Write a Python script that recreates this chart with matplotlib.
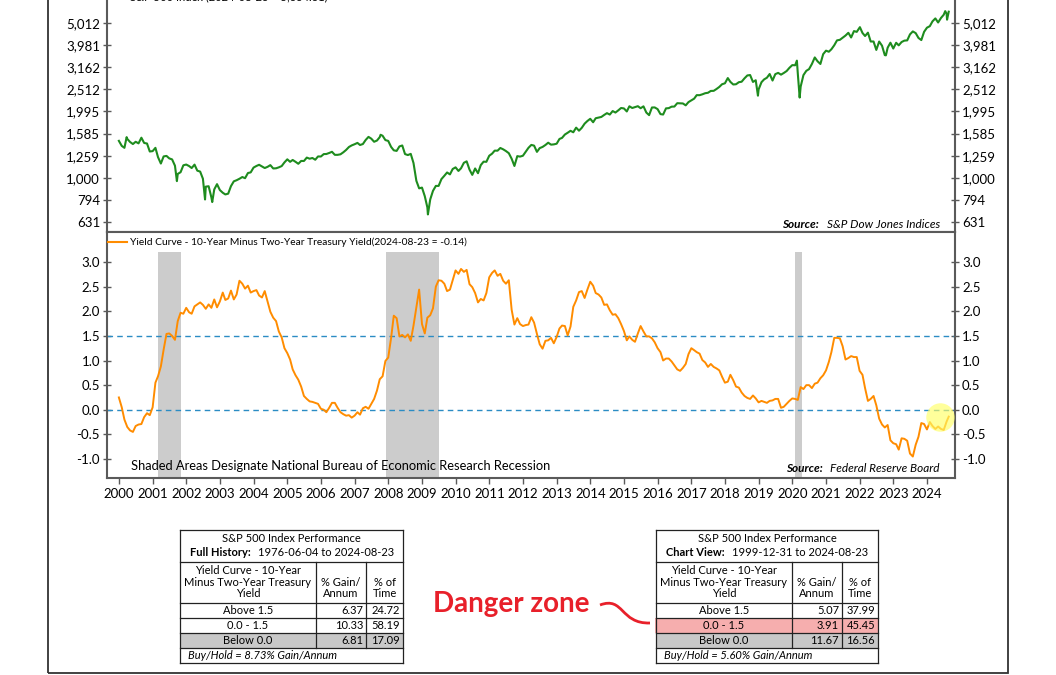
import matplotlib
matplotlib.use("Agg")
import matplotlib.pyplot as plt
import numpy as np
import pandas as pd
from matplotlib.patches import Rectangle, PathPatch
from matplotlib.path import Path
from matplotlib.lines import Line2D
from matplotlib.ticker import NullLocator

plt.rcParams['font.family'] = ['Lato', 'DejaVu Sans']
plt.rcParams['axes.unicode_minus'] = False

W, H = 1056, 675

# ---- data -------------------------------------------------------------
# S&P 500 month-end closes, Jan 2000 .. Jul 2024
sp500_monthly = [
    1394, 1366, 1499, 1452, 1421, 1455, 1431, 1518, 1437, 1429, 1315, 1320,
    1366, 1240, 1160, 1249, 1256, 1224, 1211, 1134, 1041, 1060, 1139, 1148,
    1130, 1107, 1147, 1077, 1067, 990, 912, 916, 815, 886, 936, 880,
    856, 841, 848, 917, 964, 975, 990, 1008, 996, 1051, 1058, 1112,
    1131, 1145, 1126, 1107, 1121, 1141, 1102, 1104, 1115, 1130, 1174, 1212,
    1181, 1204, 1181, 1157, 1192, 1191, 1234, 1220, 1229, 1207, 1249, 1248,
    1280, 1281, 1295, 1311, 1270, 1270, 1277, 1304, 1336, 1378, 1401, 1418,
    1438, 1407, 1421, 1482, 1531, 1503, 1455, 1474, 1527, 1549, 1481, 1468,
    1379, 1331, 1323, 1386, 1400, 1280, 1267, 1283, 1166, 969, 896, 903,
    826, 735, 798, 873, 919, 919, 987, 1021, 1057, 1036, 1096, 1115,
    1074, 1104, 1169, 1187, 1089, 1031, 1102, 1049, 1141, 1183, 1181, 1258,
    1286, 1327, 1326, 1364, 1345, 1321, 1292, 1219, 1131, 1253, 1247, 1258,
    1312, 1366, 1408, 1398, 1310, 1362, 1379, 1407, 1441, 1412, 1416, 1426,
    1498, 1515, 1569, 1598, 1631, 1606, 1686, 1633, 1682, 1757, 1806, 1848,
    1783, 1859, 1872, 1884, 1924, 1960, 1931, 2003, 1972, 2018, 2068, 2059,
    1995, 2105, 2068, 2086, 2107, 2063, 2104, 1972, 1920, 2079, 2080, 2044,
    1940, 1932, 2060, 2065, 2097, 2099, 2174, 2171, 2168, 2126, 2199, 2239,
    2279, 2364, 2363, 2384, 2412, 2423, 2470, 2472, 2519, 2575, 2648, 2674,
    2824, 2714, 2641, 2648, 2705, 2718, 2816, 2902, 2914, 2712, 2760, 2507,
    2704, 2784, 2834, 2946, 2752, 2942, 2980, 2926, 2977, 3038, 3141, 3231,
    3226, 2954, 2585, 2912, 3044, 3100, 3271, 3500, 3363, 3270, 3622, 3756,
    3714, 3811, 3973, 4181, 4204, 4298, 4395, 4523, 4308, 4605, 4567, 4766,
    4516, 4374, 4530, 4132, 4132, 3785, 4130, 3955, 3586, 3872, 4080, 3840,
    4077, 3970, 4109, 4169, 4180, 4450, 4589, 4508, 4288, 4194, 4568, 4770,
    4846, 5096, 5254, 5036, 5278, 5460, 5522,
]
# notable intra-month closes
sp500_extra_dates = ['1999-12-31', '2000-03-24', '2001-09-21', '2002-07-23', '2002-10-09',
                     '2007-10-09', '2009-03-06', '2018-12-24', '2020-02-19', '2020-03-20',
                     '2022-01-03', '2022-10-12', '2024-07-16', '2024-08-05', '2024-08-23']
sp500_extra_values = [1469, 1527, 966, 798, 777, 1565, 683, 2351, 3386, 2305,
                      4797, 3577, 5667, 5186, 5634]

# 10-year minus 2-year treasury yield, monthly, Jan 2000 .. Jul 2024
spread_monthly = [
    0.05, -0.20, -0.35, -0.42, -0.45, -0.33, -0.30, -0.29, -0.15, -0.07, -0.11, 0.05,
    0.55, 0.68, 0.88, 1.22, 1.54, 1.55, 1.50, 1.42, 1.80, 1.97, 1.95, 2.07,
    1.98, 1.95, 2.10, 2.14, 2.18, 2.13, 2.05, 2.14, 2.07, 2.24, 2.08, 2.20,
    2.38, 2.23, 2.26, 2.42, 2.24, 2.34, 2.62, 2.56, 2.46, 2.52, 2.38, 2.41,
    2.43, 2.32, 2.28, 2.41, 2.20, 1.99, 1.87, 1.80, 1.59, 1.47, 1.25, 1.15,
    1.02, 0.82, 0.70, 0.61, 0.47, 0.28, 0.22, 0.17, 0.16, 0.14, 0.12, 0.02,
    0.00, -0.05, 0.04, 0.14, 0.14, 0.04, -0.05, -0.09, -0.12, -0.11, -0.16, -0.12,
    -0.05, -0.10, 0.03, 0.06, 0.02, 0.12, 0.22, 0.39, 0.62, 0.68, 0.99, 1.06,
    1.46, 1.91, 1.86, 1.49, 1.52, 1.47, 1.53, 1.40, 1.71, 2.08, 2.44, 1.74,
    1.55, 1.87, 1.92, 2.06, 2.50, 2.63, 2.62, 2.56, 2.41, 2.44, 2.63, 2.83,
    2.76, 2.86, 2.80, 2.84, 2.55, 2.49, 2.37, 2.18, 2.25, 2.22, 2.37, 2.69,
    2.78, 2.83, 2.72, 2.76, 2.62, 2.56, 2.63, 2.03, 1.73, 1.86, 1.74, 1.70,
    1.72, 1.73, 1.88, 1.77, 1.54, 1.33, 1.24, 1.40, 1.41, 1.46, 1.35, 1.48,
    1.65, 1.71, 1.70, 1.51, 1.69, 2.09, 2.22, 2.39, 2.41, 2.27, 2.44, 2.60,
    2.52, 2.37, 2.34, 2.28, 2.13, 2.14, 2.02, 1.93, 1.94, 1.86, 1.74, 1.60,
    1.41, 1.49, 1.42, 1.38, 1.55, 1.70, 1.59, 1.49, 1.49, 1.45, 1.37, 1.25,
    1.17, 1.00, 1.04, 1.04, 0.98, 0.90, 0.82, 0.79, 0.85, 0.93, 1.13, 1.25,
    1.21, 1.17, 1.14, 1.01, 0.96, 0.87, 0.93, 0.87, 0.84, 0.80, 0.67, 0.55,
    0.57, 0.71, 0.60, 0.47, 0.45, 0.35, 0.28, 0.24, 0.22, 0.29, 0.23, 0.15,
    0.18, 0.16, 0.14, 0.18, 0.19, 0.22, 0.22, 0.04, 0.06, 0.12, 0.18, 0.23,
    0.22, 0.20, 0.46, 0.42, 0.50, 0.50, 0.44, 0.53, 0.55, 0.64, 0.70, 0.80,
    0.97, 1.17, 1.46, 1.46, 1.45, 1.29, 1.02, 1.05, 1.09, 1.07, 1.07, 0.79,
    0.71, 0.44, 0.18, 0.22, 0.28, 0.09, -0.18, -0.30, -0.36, -0.31, -0.62, -0.68,
    -0.70, -0.81, -0.58, -0.59, -0.63, -0.89, -0.95, -0.71, -0.55, -0.27, -0.29, -0.40,
    -0.25, -0.33, -0.39, -0.34, -0.39, -0.41, -0.24,
]
spread_extra_dates = ['1999-12-31', '2024-08-23']
spread_extra_values = [0.25, -0.14]

recession_start = [2001.17, 2007.92, 2020.08]
recession_end = [2001.83, 2009.50, 2020.30]

sp_ticks = [631, 794, 1000, 1259, 1585, 1995, 2512, 3162, 3981, 5012]
sp_tick_labels = ['631', '794', '1,000', '1,259', '1,585', '1,995', '2,512', '3,162', '3,981', '5,012']
yc_ticks = [-1.0, -0.5, 0.0, 0.5, 1.0, 1.5, 2.0, 2.5, 3.0]
years = list(range(2000, 2025))
thresholds = [0.0, 1.5]

tbl_col_head = ['Yield Curve - 10-Year\nMinus Two-Year Treasury\nYield', '% Gain/\nAnnum', '% of\nTime']
tbl_rows = ['Above 1.5', '0.0 - 1.5', 'Below 0.0']
full_gain = ['6.37', '10.33', '6.81']
full_time = ['24.72', '58.19', '17.09']
view_gain = ['5.07', '3.91', '11.67']
view_time = ['37.99', '45.45', '16.56']


def frac_year(d):
    d = pd.to_datetime(pd.Series(d))
    return (d.dt.year + (d.dt.dayofyear - 1) / 365.25).to_numpy()


month_ends = pd.date_range('2000-01-31', '2024-07-31', freq='ME')
sp_x = np.concatenate([frac_year(month_ends), frac_year(sp500_extra_dates)])
sp_y = np.concatenate([sp500_monthly, sp500_extra_values])
o = np.argsort(sp_x)
sp_x, sp_y = sp_x[o], sp_y[o]

yc_x = np.concatenate([frac_year(month_ends), frac_year(spread_extra_dates)])
yc_y = np.concatenate([spread_monthly, spread_extra_values])
o = np.argsort(yc_x)
yc_x, yc_y = yc_x[o], yc_y[o]


# ---- helpers (pixel coords, origin top-left) ---------------------------
def fx(x):
    return x / W


def fy(y):
    return 1 - y / H


fig = plt.figure(figsize=(W / 100, H / 100), dpi=100)
fig.patch.set_facecolor('white')

spine_col = '#5a5a5a'
xlo, xhi = 1999.644, 2024.83

# ---- top panel: S&P 500 ------------------------------------------------
ax1 = fig.add_axes([fx(107), fy(232), fx(955) - fx(107), (232 + 14) / H])
ax1.plot(sp_x, sp_y, color='#1e8c1e', lw=1.5)
ax1.set_yscale('log')
ax1.set_ylim(10 ** 2.755, 10 ** 3.867)
ax1.set_xlim(xlo, xhi)
ax1.set_yticks(sp_ticks)
ax1.set_yticklabels(sp_tick_labels)
ax1.yaxis.set_minor_locator(NullLocator())
ax1.set_xticks([])
ax1.tick_params(axis='y', which='both', direction='inout', length=6, width=1, color=spine_col,
                left=True, right=True, labelleft=True, labelright=True, labelsize=9.5, pad=2)

# ---- bottom panel: yield curve ----------------------------------------
ax2 = fig.add_axes([fx(107), fy(478), fx(955) - fx(107), (478 - 232) / H])
y2lo, y2hi = -1.386, 3.61
shade_top = (3.2 - y2lo) / (y2hi - y2lo)
for s, e in zip(recession_start, recession_end):
    ax2.axvspan(s, e, ymin=0, ymax=shade_top, color='#cccccc', lw=0, zorder=1)
for t in thresholds:
    ax2.axhline(t, color='#2b8cc4', lw=1, dashes=(4, 3), zorder=2)
ax2.plot(yc_x, yc_y, color='#ff8c00', lw=1.4, zorder=3)
ax2.scatter([2024.39], [-0.15], s=420, color='#ffff66', alpha=0.65, lw=0, zorder=4)
ax2.set_ylim(y2lo, y2hi)
ax2.set_xlim(xlo, xhi)
ax2.set_yticks(yc_ticks)
ax2.set_yticklabels(['%.1f' % v for v in yc_ticks])
ax2.set_xticks(years)
ax2.set_xticklabels([str(y) for y in years])
ax2.tick_params(axis='y', direction='inout', length=6, width=1, color=spine_col,
                left=True, right=True, labelleft=True, labelright=True, labelsize=9.5, pad=2)
ax2.tick_params(axis='x', direction='out', length=4, width=1, color=spine_col, labelsize=9.5, pad=3)

for ax in (ax1, ax2):
    for sp in ax.spines.values():
        sp.set_color(spine_col)
        sp.set_linewidth(1.5)

# legends / annotations
fig.add_artist(Line2D([fx(108), fx(127)], [fy(-3), fy(-3)], color='#1e8c1e', lw=1.5))
fig.text(fx(130), fy(-3), 'S&P 500 Index (2024-08-23 = 5,634.61)', fontsize=8, va='center')
fig.add_artist(Line2D([fx(108), fx(127)], [fy(242), fy(242)], color='#ff8c00', lw=1.5))
fig.text(fx(130), fy(242), 'Yield Curve - 10-Year Minus Two-Year Treasury Yield(2024-08-23 = -0.14)',
         fontsize=7.4, va='center')
fig.text(fx(131), fy(466), 'Shaded Areas Designate National Bureau of Economic Research Recession',
         fontsize=9.3, va='center')

renderer = fig.canvas.get_renderer()


def source_text(x_right, y, txt):
    t = fig.text(fx(x_right), fy(y), txt, fontsize=8.5, style='italic', ha='right', va='center')
    bb = t.get_window_extent(renderer)
    fig.text(bb.x0 / W - fx(8), fy(y), 'Source:', fontsize=8.5, style='italic', weight='bold',
             ha='right', va='center')


source_text(940, 225, 'S&P Dow Jones Indices')
source_text(940, 469, 'Federal Reserve Board')

# outer frame
fig.add_artist(Rectangle((fx(48), fy(673)), fx(1008) - fx(48), (673 + 30) / H, transform=fig.transFigure,
                         fill=False, ec='#333333', lw=1.3, clip_on=False))


# ---- tables -------------------------------------------------------------
def hline(x0, x1, y, lw=0.9):
    fig.add_artist(Line2D([fx(x0), fx(x1)], [fy(y), fy(y)], color='#222222', lw=lw))


def vline(x, y0, y1, lw=0.9):
    fig.add_artist(Line2D([fx(x), fx(x)], [fy(y0), fy(y1)], color='#222222', lw=lw))


def draw_table(cols, bold_lbl, dates_txt, gains, times, buyhold, highlight=False):
    rows_y = [530, 562, 603, 618, 633, 648, 663]
    x0, c1, c2, x1 = cols
    # gray row
    fig.add_artist(Rectangle((fx(x0), fy(648)), fx(x1) - fx(x0), (648 - 633) / H,
                             transform=fig.transFigure, color='#c8c8c8', lw=0))
    for y in rows_y:
        hline(x0, x1, y)
    vline(x0, 530, 663)
    vline(x1, 530, 663)
    vline(c1, 562, 648)
    vline(c2, 562, 648)
    fs = 8
    fig.text(fx((x0 + x1) / 2), fy(538), 'S&P 500 Index Performance', fontsize=fs, ha='center', va='center')
    b = fig.text(fx(x0 + 10), fy(552), bold_lbl, fontsize=fs, weight='bold', ha='left', va='center')
    bb = b.get_window_extent(renderer)
    fig.text(bb.x1 / W + fx(7), fy(552), dates_txt, fontsize=fs, ha='left', va='center')
    fig.text(fx((x0 + c1) / 2), fy(582), tbl_col_head[0], fontsize=fs, ha='center', va='center',
             linespacing=1.05)
    fig.text(fx((c1 + c2) / 2), fy(588), tbl_col_head[1], fontsize=fs, ha='center', va='center',
             linespacing=1.05)
    fig.text(fx((c2 + x1) / 2), fy(588), tbl_col_head[2], fontsize=fs, ha='center', va='center',
             linespacing=1.05)
    for i, lbl in enumerate(tbl_rows):
        yc = 610.5 + 15 * i
        fig.text(fx((x0 + c1) / 2), fy(yc), lbl, fontsize=fs, ha='center', va='center')
        fig.text(fx(c2 - 3), fy(yc), gains[i], fontsize=fs, ha='right', va='center')
        fig.text(fx(x1 - 3), fy(yc), times[i], fontsize=fs, ha='right', va='center')
    fig.text(fx(x0 + 8), fy(655.5), buyhold, fontsize=fs, style='italic', ha='left', va='center')
    if highlight:
        fig.add_artist(Rectangle((fx(x0 - 1), fy(633)), fx(x1) - fx(x0 - 1), (633 - 618) / H,
                                 transform=fig.transFigure, color='#f07878', alpha=0.6, lw=0))


draw_table([180, 316, 366, 403], 'Full History:', '1976-06-04 to 2024-08-23',
           full_gain, full_time, 'Buy/Hold = 8.73% Gain/Annum')
draw_table([656, 792, 842, 878], 'Chart View:', '1999-12-31 to 2024-08-23',
           view_gain, view_time, 'Buy/Hold = 5.60% Gain/Annum', highlight=True)

# danger zone annotation
fig.text(fx(433), fy(604), 'Danger zone', fontsize=20, weight='bold', color='#e8202a',
         ha='left', va='center')
pts = [(600, 605), (624, 596), (620, 624), (650, 623)]
path = Path([(fx(x), fy(y)) for x, y in pts], [Path.MOVETO, Path.CURVE4, Path.CURVE4, Path.CURVE4])
fig.add_artist(PathPatch(path, transform=fig.transFigure, fill=False, ec='#e8202a', lw=2))

fig.savefig('out.png', dpi=100)
